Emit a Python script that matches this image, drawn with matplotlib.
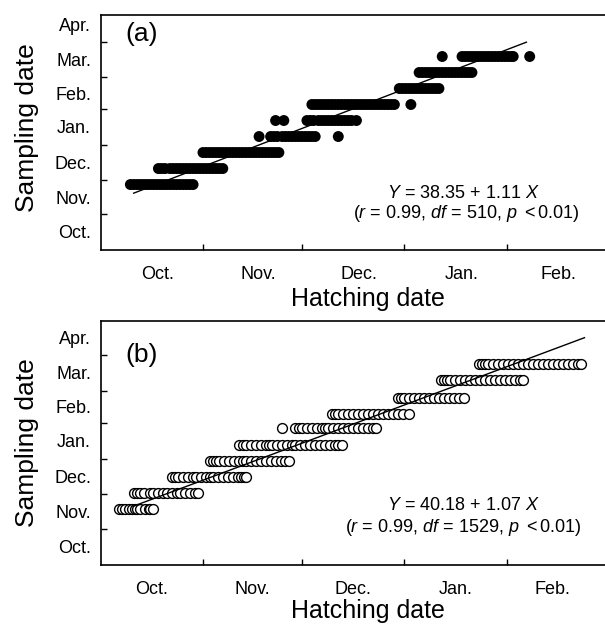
import matplotlib
matplotlib.use("Agg")
import matplotlib.pyplot as plt

plt.rcParams['font.family'] = ['Liberation Sans', 'DejaVu Sans']
plt.rcParams['mathtext.fontset'] = 'custom'
plt.rcParams['mathtext.rm'] = 'Liberation Sans'
plt.rcParams['mathtext.it'] = 'Liberation Sans:italic'

# days counted from Oct. 1
hatch_months = ["Oct.", "Nov.", "Dec.", "Jan.", "Feb."]
hatch_month_starts = [0, 31, 61, 92, 123]
sample_months = ["Oct.", "Nov.", "Dec.", "Jan.", "Feb.", "Mar.", "Apr."]
sample_month_starts = [0, 31, 61, 92, 123, 151, 182]
month_len = [31, 30, 31, 31, 28, 31, 30]

# ---- panel (a): sampling day -> hatching days ----
a_sampling = [57, 71, 85, 99, 113, 127, 141, 155, 169]
a_hatch = [
    [9, 10, 11, 12, 13, 14, 15, 16, 17, 18, 19, 20, 21, 22, 23, 24, 25, 26, 27, 28],
    [17.5, 18.5, 19.5, 21, 22, 23, 24, 25, 26, 27, 28, 29, 30, 31, 32, 33, 34, 35, 36, 37],
    [31, 32, 33, 34, 35, 36, 37, 38, 39, 40, 41, 42, 43, 44, 45, 46, 47, 48, 49, 50,
     51, 52, 53, 54],
    [48, 51.5, 52.5, 53.5, 55, 56, 57, 58, 59, 60, 61, 62, 63, 64, 65, 72],
    [53, 55.5, 62.5, 63.5, 64.5, 66, 67, 68, 69, 70, 71, 72, 73, 74, 75, 76, 77.5],
    [64, 65, 66, 67, 68, 69, 70, 71, 72, 73, 74, 75, 76, 77, 78, 79, 80, 81, 82, 83,
     84, 85, 86, 87, 88, 89, 94],
    [90.5, 91.5, 92.5, 93.5, 94.5, 95.5, 96.5, 97.5, 98.5, 99.5, 100.5, 101.5, 102.5],
    [96.5, 97.5, 98.5, 99.5, 100.5, 101.5, 102.5, 103.5, 104.5, 105.5, 106.5, 107.5,
     108.5, 109.5, 110.5, 111.5, 112.5],
    [103.5, 109.5, 110.5, 111.5, 112.5, 113.5, 114.5, 115.5, 116.5, 117.5, 118.5, 119.5,
     120.5, 121.5, 122.5, 123.5, 124.5, 125, 130],
]
a_intercept, a_slope = 38.35, 1.11
a_line_x = [10, 129]

# ---- panel (b) ----
b_sampling = [48, 62, 76, 90, 104, 119, 131, 145, 160, 174]
b_hatch = [
    [5.5, 6.5, 7.5, 8.5, 9.5, 10.5, 11, 12, 13.5, 14.5, 15, 16],
    [10, 11, 12, 13, 15, 16, 17.5, 19, 20, 21.5, 23, 24, 25.5, 27, 28.5, 29.5],
    [21.5, 22.5, 23.5, 25, 26.5, 28, 29, 30.5, 32, 33, 34, 35.5, 37, 38.5, 40, 41.5,
     42.5, 43.5, 44],
    [33, 34, 35, 36, 37.5, 39, 40.5, 42, 43, 44, 45.5, 47, 48.5, 50, 51.5, 53, 54.5,
     56, 57],
    [42, 43, 44, 45.5, 47, 48.5, 50, 51, 52, 53.5, 55, 56.5, 58, 59, 60.5, 62, 63.5,
     65, 66.5, 68, 69.5, 71, 72, 73],
    [55, 59, 60, 61, 62.5, 64, 65.5, 67, 68, 69, 70.5, 72, 73.5, 75, 76.5, 78, 79.5,
     81, 82.5, 83.5],
    [70, 71, 72, 73.5, 75, 76.5, 78, 79.5, 81, 82.5, 84, 85.5, 87, 88.5, 90, 91.5, 93.5],
    [90, 91, 92, 93.5, 95, 96.5, 98, 99.5, 101, 102.5, 104, 105.5, 107, 108.5, 110],
    [103, 104, 105, 106, 107.5, 109, 110.5, 112, 113.5, 115, 116.5, 118, 119.5, 121,
     122.5, 124, 125.5, 127, 128],
    [114.5, 115.5, 116.5, 117.5, 119, 120.5, 122, 123.5, 125, 126.5, 128, 129.5, 131,
     132.5, 134, 135.5, 137, 138.5, 140, 141.5, 143, 144.5, 145.5],
]
b_intercept, b_slope = 40.18, 1.07
b_line_x = [9.8, 146.6]


def style_axes(ax, ytop, label_shift):
    ax.set_xlim(0, 161.6)
    ax.set_ylim(0, ytop)
    for side in ['left', 'bottom', 'top']:
        ax.spines[side].set_linewidth(1.2)
    ax.spines['right'].set_visible(False)
    ax.set_xticks(hatch_month_starts[1:])
    ax.set_xticklabels([])
    ax.set_xticks([s + l / 2 + label_shift for s, l in zip(hatch_month_starts, month_len)],
                  minor=True)
    ax.set_xticklabels(hatch_months, minor=True)
    ax.set_yticks(sample_month_starts[1:])
    ax.set_yticklabels([])
    ax.set_yticks([s + l / 2 for s, l in zip(sample_month_starts, month_len)], minor=True)
    ax.set_yticklabels(sample_months, minor=True)
    ax.tick_params(which='major', direction='in', length=4, width=1)
    ax.tick_params(which='minor', length=0, labelsize=13)
    ax.tick_params(axis='x', which='minor', pad=12)
    ax.tick_params(axis='y', which='minor', pad=7)


fig = plt.figure(figsize=(6.05, 6.28), dpi=100)
ax_a = fig.add_axes([0.1664, 0.6024, 0.8815, 0.3737])
ax_b = fig.add_axes([0.1664, 0.1008, 0.8815, 0.3880])

for day, xs in zip(a_sampling, a_hatch):
    ax_a.scatter(xs, [day] * len(xs), s=62, c='black', edgecolors='none', zorder=2)
ax_a.plot(a_line_x, [a_intercept + a_slope * x for x in a_line_x], color='black', lw=1, zorder=3)
style_axes(ax_a, 205.3, 1.8)

for day, xs in zip(b_sampling, b_hatch):
    ax_b.scatter(xs, [day] * len(xs), s=50, facecolors='white', edgecolors='black',
                 linewidths=1.0, zorder=2)
ax_b.plot(b_line_x, [b_intercept + b_slope * x for x in b_line_x], color='black', lw=1, zorder=3)
style_axes(ax_b, 211.5, 0)

for ax, tag, ty in [(ax_a, '(a)', 0.92), (ax_b, '(b)', 0.86)]:
    ax.text(0.047, ty, tag, transform=ax.transAxes, fontsize=19, va='center', ha='left')

W, H = 605, 628
fig.text(463 / W, 1 - 193 / H, r"$Y$ = 38.35 + 1.11 $X$", ha='center', va='center', fontsize=13)
fig.text(466 / W, 1 - 213 / H, r"($r$ = 0.99, $df$ = 510, $p$ $<$0.01)", ha='center',
         va='center', fontsize=13)
fig.text(463 / W, 1 - 505 / H, r"$Y$ = 40.18 + 1.07 $X$", ha='center', va='center', fontsize=13)
fig.text(463 / W, 1 - 528 / H, r"($r$ = 0.99, $df$ = 1529, $p$ $<$0.01)", ha='center',
         va='center', fontsize=13)

fig.text(367.5 / W, 1 - 306 / H, "Hatching date", ha='center', va='baseline', fontsize=18)
fig.text(367.5 / W, 1 - 618 / H, "Hatching date", ha='center', va='baseline', fontsize=18)
fig.text(27 / W, 1 - 128 / H, "Sampling date", rotation=90, ha='center', va='center', fontsize=19)
fig.text(27 / W, 1 - 443 / H, "Sampling date", rotation=90, ha='center', va='center', fontsize=19)

fig.savefig("out.png", dpi=100)
